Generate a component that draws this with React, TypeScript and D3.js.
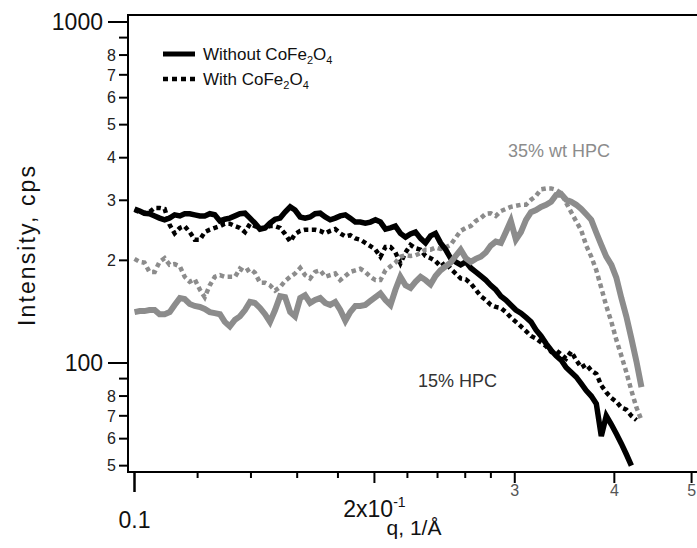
import React from 'react';
import * as d3 from 'd3';

// q grid (1/Å)
const qValues = [
  0.1000,0.1015,0.1029,0.1044,0.1060,0.1075,0.1091,0.1107,0.1123,0.1140,
  0.1156,0.1173,0.1190,0.1208,0.1225,0.1243,0.1261,0.1280,0.1298,0.1317,
  0.1337,0.1356,0.1376,0.1396,0.1416,0.1437,0.1458,0.1479,0.1501,0.1523,
  0.1545,0.1568,0.1590,0.1614,0.1637,0.1661,0.1685,0.1710,0.1735,0.1760,
  0.1786,0.1812,0.1839,0.1865,0.1893,0.1920,0.1948,0.1977,0.2006,0.2035,
  0.2065,0.2095,0.2125,0.2156,0.2188,0.2220,0.2252,0.2285,0.2318,0.2352,
  0.2386,0.2421,0.2457,0.2492,0.2529,0.2566,0.2604,0.2642,0.2680,0.2719,
  0.2759,0.2799,0.2840,0.2882,0.2924,0.2966,0.3010,0.3054,0.3099,0.3144,
  0.3190,0.3236,0.3284,0.3332,0.3381,0.3430,0.3480,0.3531,0.3583,0.3635,
  0.3688,0.3742,0.3797,0.3852,0.3908,0.3966,0.4023,0.4082,0.4141,0.4202,
  0.4264,0.4326,
];

// 15% HPC, without CoFe2O4 (black solid)
const hpc15Without = [
  283,279,275,274,270,266,263,266,272,270,
  274,274,272,270,270,274,272,261,264,266,
  270,274,275,266,257,247,249,257,264,266,
  277,287,281,268,266,268,274,275,268,263,
  266,270,272,266,259,259,257,259,263,259,
  247,249,252,240,234,239,242,232,225,236,
  240,225,215,203,198,194,198,190,185,180,
  175,169,164,157,153,148,143,140,136,132,
  125,120,114,109,105,102,97,94,91,87,
  83,80,76,61,70,66,62,58,54,50,
];

// 15% HPC, with CoFe2O4 (black dotted)
const hpc15With = [
  281,277,275,277,285,285,283,254,240,249,
  252,242,230,230,242,246,249,252,256,256,
  252,249,242,256,252,249,249,252,252,249,
  239,227,239,244,246,246,246,244,240,244,
  247,240,235,237,232,230,225,220,215,205,
  219,219,211,196,211,222,217,215,206,203,
  199,192,197,189,183,177,176,171,164,157,
  153,148,146,145,141,136,132,128,124,120,
  118,115,112,108,109,106,103,108,102,97,
  99,95,93,86,82,79,77,74,73,70,
  68,
];

// 35% wt HPC, without CoFe2O4 (grey solid)
const hpc35Without = [
  141,142,142,143,143,139,139,141,148,155,
  154,149,147,146,144,141,140,139,132,128,
  134,137,143,151,150,145,139,132,143,157,
  156,141,137,155,158,150,153,155,150,148,
  151,143,133,141,147,147,148,152,156,160,
  153,148,164,179,169,166,173,179,175,170,
  180,187,192,197,206,215,203,198,202,205,
  211,221,227,225,242,261,230,242,263,277,
  281,287,291,297,311,313,301,297,291,283,
  273,263,241,222,205,194,178,155,137,118,
  101,85,
];

// 35% wt HPC, with CoFe2O4 (grey dotted)
const hpc35With = [
  202,198,197,185,185,198,203,194,195,192,
  179,173,176,164,156,169,179,181,179,179,
  179,189,185,189,184,172,172,169,163,167,
  174,179,183,190,181,177,185,187,179,181,
  183,175,180,185,187,189,185,179,175,175,
  187,192,197,205,207,206,207,210,215,215,
  218,216,218,222,233,244,249,252,261,266,
  274,275,270,279,283,287,289,291,291,301,
  309,323,325,325,322,315,295,277,260,245,
  221,205,187,166,147,132,117,105,94,83,
  74,68,
];

// axis ticks
const yTickValues = [50, 60, 70, 80, 90, 100, 200, 300, 400, 500, 600, 700, 800, 900, 1000];
const yTickLabels = ['5', '6', '7', '8', '', '100', '2', '3', '4', '5', '6', '7', '8', '', '1000'];
const yMajor = [100, 1000];
const xMinorTicks = [0.12, 0.14, 0.16, 0.18, 0.22, 0.24, 0.26, 0.28];
const xSmallLabelTicks = [0.3, 0.4, 0.5];
const xSmallLabels = ['3', '4', '5'];

const FONT = 'Liberation Sans, Arial, Helvetica, sans-serif';
const GREY = '#8c8c8c';

const plotLeft = 128;
const plotTop = 15;
const plotBottom = 472;
const plotRight = 697;

const x = d3.scaleLog().domain([0.1, 1]).range([134.5, 134.5 + 797]);
const y = d3.scaleLog().domain([100, 1000]).range([363, 22]);

const lineGen = d3
  .line<[number, number]>()
  .x((d) => x(d[0]))
  .y((d) => y(d[1]));

const pathOf = (vals: number[]) => lineGen(vals.map((v, i) => [qValues[i], v] as [number, number])) || '';

export default function App() {
  return (
    <svg
      width={697}
      height={548}
      style={{ position: 'absolute', left: 0, top: 0, background: '#fff' }}
      fontFamily={FONT}
    >
      <rect x={0} y={0} width={697} height={548} fill="#fff" />

      {/* data */}
      <g fill="none" strokeLinejoin="miter">
        <path d={pathOf(hpc15With)} stroke="#000" strokeWidth={4.5} strokeDasharray="4.5 3.5" />
        <path d={pathOf(hpc35With)} stroke={GREY} strokeWidth={4.5} strokeDasharray="4.5 3.5" />
        <path d={pathOf(hpc15Without)} stroke="#000" strokeWidth={5.5} />
        <path d={pathOf(hpc35Without)} stroke={GREY} strokeWidth={6} />
      </g>

      {/* frame */}
      <g stroke="#000" strokeWidth={2} fill="none">
        <line x1={plotLeft} y1={plotTop} x2={plotRight} y2={plotTop} />
        <line x1={plotLeft} y1={plotTop - 1} x2={plotLeft} y2={plotBottom + 1} />
        <line x1={plotLeft - 1} y1={plotBottom} x2={plotRight} y2={plotBottom} />
      </g>

      {/* y ticks */}
      {yTickValues.map((v, i) => {
        const major = yMajor.includes(v);
        const yy = y(v);
        return (
          <g key={'yt' + v}>
            <line x1={plotLeft - (major ? 20 : 9)} x2={plotLeft} y1={yy} y2={yy} stroke="#000" strokeWidth={2} />
            {yTickLabels[i] && (
              <text
                x={major ? 103 : 116}
                y={yy}
                dy="0.36em"
                textAnchor="end"
                fontSize={major ? 23 : 16}
                fill={major ? '#111' : '#222'}
              >
                {yTickLabels[i]}
              </text>
            )}
          </g>
        );
      })}

      {/* x ticks */}
      <line x1={x(0.1)} x2={x(0.1)} y1={plotBottom} y2={plotBottom + 20} stroke="#000" strokeWidth={2.5} />
      <line x1={x(0.2)} x2={x(0.2)} y1={plotBottom} y2={plotBottom + 11} stroke="#000" strokeWidth={2} />
      {xSmallLabelTicks.map((v) => (
        <line key={'xm' + v} x1={x(v)} x2={x(v)} y1={plotBottom} y2={plotBottom + 11} stroke="#000" strokeWidth={2} />
      ))}
      {xMinorTicks.map((v) => (
        <line key={'xn' + v} x1={x(v)} x2={x(v)} y1={plotBottom} y2={plotBottom + 6} stroke="#000" strokeWidth={2} />
      ))}
      <text x={x(0.1)} y={528} textAnchor="middle" fontSize={23} fill="#111">0.1</text>
      <text x={x(0.2)} y={517} textAnchor="middle" fontSize={23} fill="#111">
        2x10<tspan dy={-10} fontSize={14}>-1</tspan>
      </text>
      {xSmallLabelTicks.map((v, i) => (
        <text key={'xl' + v} x={x(v)} y={496} textAnchor="middle" fontSize={16} fill="#555">
          {xSmallLabels[i]}
        </text>
      ))}
      <text x={414} y={535} textAnchor="middle" fontSize={21} fill="#111">q, 1/Å</text>

      {/* y title */}
      <text
        transform="translate(27,246) rotate(-90)"
        textAnchor="middle"
        dominantBaseline="central"
        fontSize={23}
        textLength={160}
        lengthAdjust="spacing"
        fill="#111"
      >
        Intensity, cps
      </text>

      {/* legend */}
      <line x1={163} x2={195} y1={54} y2={54} stroke="#000" strokeWidth={5} />
      <line x1={163} x2={196} y1={79} y2={79} stroke="#000" strokeWidth={4.5} strokeDasharray="5 4" />
      <text x={203} y={60} fontSize={17} fill="#111">
        Without CoFe<tspan fontSize={11} dy={4}>2</tspan>
        <tspan dy={-4}>O</tspan>
        <tspan fontSize={11} dy={4}>4</tspan>
      </text>
      <text x={203} y={85} fontSize={17} fill="#111">
        With CoFe<tspan fontSize={11} dy={4}>2</tspan>
        <tspan dy={-4}>O</tspan>
        <tspan fontSize={11} dy={4}>4</tspan>
      </text>

      {/* annotations */}
      <text x={508} y={157} fontSize={18} fill={GREY}>35% wt HPC</text>
      <text x={418} y={387} fontSize={18} fill="#333">15% HPC</text>
    </svg>
  );
}
